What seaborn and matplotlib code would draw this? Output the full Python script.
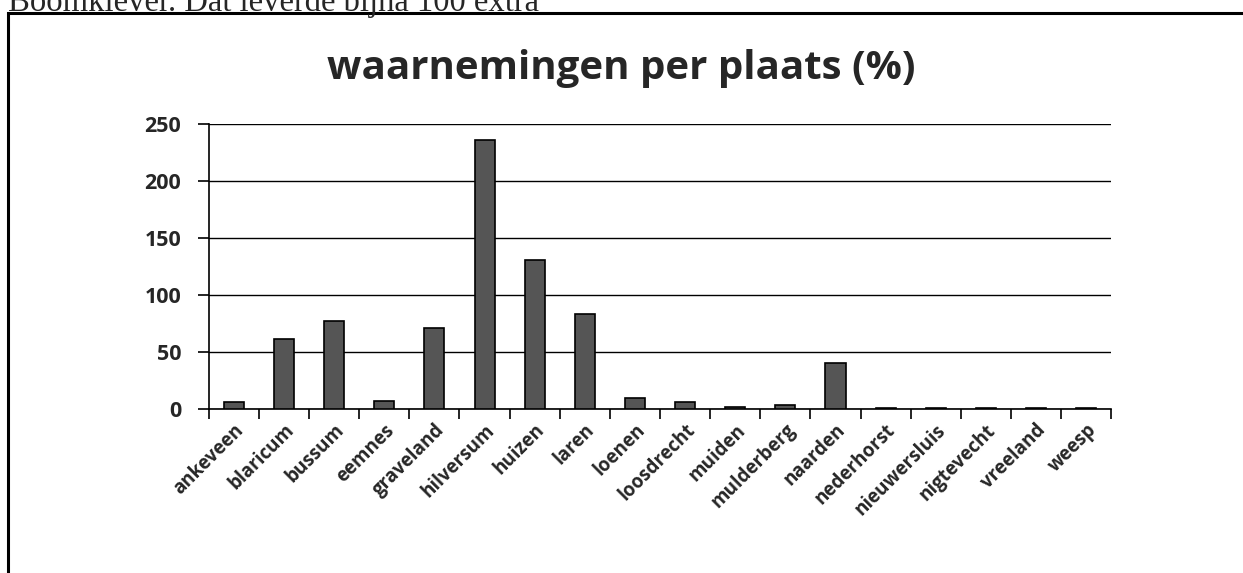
import numpy as np
import pandas as pd
import matplotlib
matplotlib.use('Agg')
import matplotlib.pyplot as plt
import seaborn as sns
from matplotlib.patches import Rectangle

plaatsen = ['ankeveen', 'blaricum', 'bussum', 'eemnes', 'graveland', 'hilversum',
            'huizen', 'laren', 'loenen', 'loosdrecht', 'muiden', 'mulderberg',
            'naarden', 'nederhorst', 'nieuwersluis', 'nigtevecht', 'vreeland', 'weesp']
waarnemingen = [6, 61, 77, 7, 71, 236, 131, 83, 10, 6, 2, 4, 40, 1, 1, 1, 1, 1]
y_ticks = [0, 50, 100, 150, 200, 250]

df = pd.DataFrame({'plaats': plaatsen, 'pct': waarnemingen})

sns.set_style('white')
plt.rcParams['font.family'] = ['Open Sans', 'DejaVu Sans']

fig = plt.figure(figsize=(12.43, 5.73), dpi=100)
ax = fig.add_axes([0.168, 0.286, 0.726, 0.498])

sns.barplot(data=df, x='plaats', y='pct', color='#555555', width=0.4,
            edgecolor='black', linewidth=1.2, saturation=1, ax=ax, zorder=3)

ax.set_ylim(0, 250)
ax.set_xlim(-0.5, len(plaatsen) - 0.5)
ax.set_yticks(y_ticks)
ax.yaxis.grid(True, color='black', linewidth=1.0)
ax.set_axisbelow(True)
ax.set_xlabel('')
ax.set_ylabel('')
for s in ['top', 'right']:
    ax.spines[s].set_visible(False)
for s in ['left', 'bottom']:
    ax.spines[s].set_color('black')
    ax.spines[s].set_linewidth(1.2)

ax.set_xticks(np.arange(len(plaatsen)))
ax.set_xticklabels(plaatsen, rotation=45, ha='right', rotation_mode='anchor',
                   fontsize=13.5, fontweight='bold')
ax.tick_params(axis='x', which='major', bottom=True, length=0, pad=8)
ax.set_xticks(np.arange(len(plaatsen) + 1) - 0.5, minor=True)
ax.tick_params(axis='x', which='minor', bottom=True, length=7, width=1.2,
               color='black', direction='out')
ax.tick_params(axis='y', left=True, length=8, width=1.2, color='black',
               direction='out', labelsize=15.5, pad=12)
for lab in ax.get_yticklabels():
    lab.set_fontweight('bold')

fig.text(0.5, 0.881, 'waarnemingen per plaats (%)', ha='center', va='center',
         fontsize=29, fontweight='bold')

fig.text(8 / 1243, 1 - 11 / 573, 'Boomklever. Dat leverde bijna 100 extra',
         ha='left', va='baseline', fontsize=23.5, family='Liberation Serif')

fig.patches.append(Rectangle((8 / 1243, -0.05), 1.1, 1 - 13 / 573 + 0.05,
                             transform=fig.transFigure, fill=False,
                             edgecolor='black', linewidth=2.2))

fig.savefig('out.png', dpi=100)
